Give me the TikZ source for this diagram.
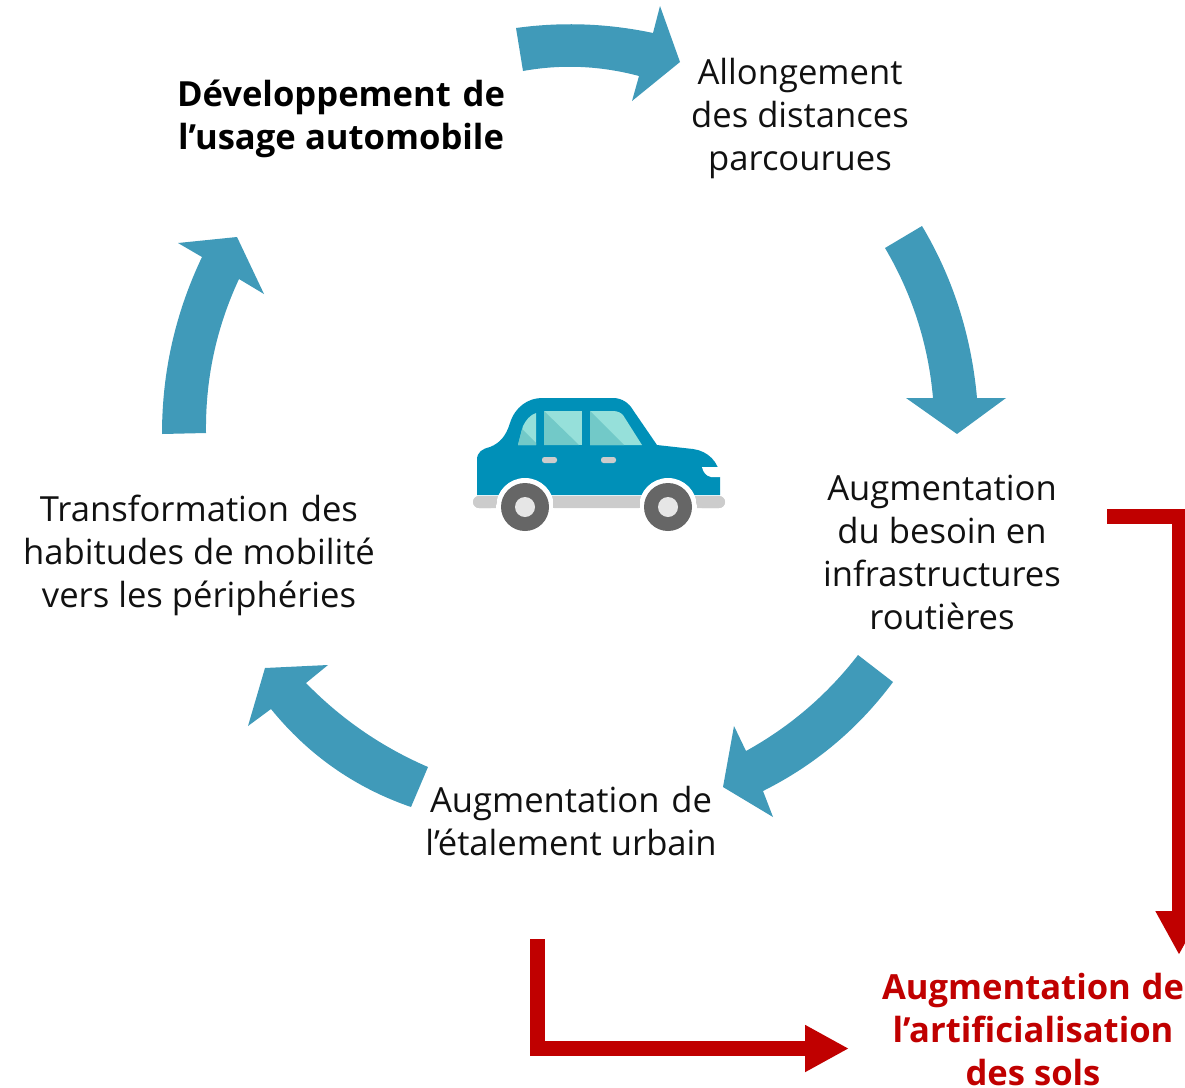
\documentclass[tikz,border=0pt]{standalone}
\usepackage{fontspec}
\setmainfont{Open Sans}
\usetikzlibrary{arrows.meta}
\definecolor{flow}{HTML}{409AB9}
\definecolor{alert}{HTML}{C00000}
\definecolor{carbody}{HTML}{0090B8}
\definecolor{glassl}{HTML}{96E0DA}
\definecolor{glassd}{HTML}{72C9C8}
\definecolor{trim}{HTML}{CCCCCC}
\definecolor{tyre}{HTML}{666666}
\definecolor{hub}{HTML}{E6E6E6}
\definecolor{ink}{HTML}{111111}
\tikzset{
  label/.style={inner sep=0pt,align=center,text=ink,font=\fontsize{34.6}{43}\selectfont},
  boldlabel/.style={label,text=black,font=\fontsize{34.6}{43}\selectfont\bfseries},
  blockarrow/.style={fill=flow,draw=none},
  redarrow/.style={draw=alert,line width=15pt,-{Triangle[length=44pt,width=44pt,fill=alert]}}
}
\begin{document}
\begin{tikzpicture}[x=1pt,y=-1pt]
\useasboundingbox (0,0) rectangle (1185,1087);

% labels
\node[boldlabel] (dev) at (341,119) {\makebox[328pt][s]{Développement\hfill de}\\\makebox[326pt][s]{l’usage automobile}};
\node[label] (allong) at (800,119) {Allongement\\des distances\\parcourues};
\node[label] (infra) at (942,552) {Augmentation\\du besoin en\\infrastructures\\routières};
\node[label] (etal) at (571,821) {\makebox[282pt][s]{Augmentation\hfill de}\\l’étalement urbain};
\node[label] (transf) at (199,555) {\makebox[318pt][s]{Transformation\hfill des}\\habitudes de mobilité\\vers les périphéries};
\node[boldlabel,text=alert] (artif) at (1033,1030) {\makebox[302pt][s]{Augmentation\hfill de}\\l’artificialisation\\des sols};

% cycle arrows
\fill[blockarrow] (516,28) .. controls (561.7,21.7) and (607.3,23.3) .. (653,33) -- (660,6) -- (680,62) -- (632,101) -- (639,76) .. controls (600.3,65.7) and (561.7,64) .. (523,71) -- cycle;
\fill[blockarrow] (922,226) .. controls (953,278) and (971.3,335.3) .. (977,398) -- (1006,398) -- (957,434) -- (906,398) -- (933,398) .. controls (928.3,344.3) and (912.3,294.3) .. (885,248) -- cycle;
\fill[blockarrow] (858,655) .. controls (827.3,694.7) and (790,726.7) .. (746,751) -- (734,726) -- (723,787) -- (773,817) -- (763,791) .. controls (815,765) and (858.3,728.7) .. (893,682) -- cycle;
\fill[blockarrow] (428,767) .. controls (381.7,747) and (341.1,719) .. (306,683) -- (328,665) -- (265,668) -- (248,726) -- (271,709) .. controls (308.3,755) and (355,787.7) .. (411,807) -- cycle;
\fill[blockarrow] (162,434) .. controls (162,372) and (175.3,313) .. (202,257) -- (178,243) -- (237,237) -- (264,294) -- (239,279) .. controls (216.3,327.7) and (205.3,379) .. (206,433) -- cycle;

% red arrows
\coordinate (redAstart) at (1107,516.5);
\coordinate (redAend) at (1179,955);
\coordinate (redBstart) at (537.5,939);
\coordinate (redBend) at (849,1048.5);
\draw[redarrow] (redAstart) -| (redAend);
\draw[redarrow] (redBstart) |- (redBend);

% car
\fill[trim,rounded corners=6pt] (473,496) rectangle (725,508);
\fill[carbody] (477,495) -- (477,460) .. controls (477,452) and (482,449) .. (490,447)
  .. controls (500,443) and (506,436) .. (510,423) .. controls (515,407) and (528,398) .. (542,398)
  -- (613,398) .. controls (622,398) and (629,403) .. (633,410) -- (657,445) -- (693,449)
  .. controls (708,451) and (719,462) .. (720,477) -- (720,495) -- cycle;
\fill[white] (702,467) -- (720,467) -- (720,477) -- (711,477) .. controls (706,476) and (703,472) .. (702,467) -- cycle;
% windows
\fill[glassl] (518,445) -- (523,426) .. controls (526,420) and (530,415) .. (536,413) -- (536,445) -- cycle;
\fill[glassd] (518,445) -- (522,429) -- (536,443) -- (536,445) -- cycle;
\fill[glassl] (544,411) rectangle (582,445);
\fill[glassd] (544,411) -- (579,445) -- (544,445) -- cycle;
\fill[glassl] (590,411) -- (613,411) .. controls (618,411) and (621,413) .. (623,415) -- (642,445) -- (590,445) -- cycle;
\fill[glassd] (590,411) -- (624,445) -- (590,445) -- cycle;
% handles
\fill[trim,rounded corners=2.5pt] (542,457) rectangle (557,463);
\fill[trim,rounded corners=2.5pt] (601,457) rectangle (616,463);
% wheels
\fill[white] (525,507) circle (29);
\fill[white] (668,507) circle (29);
\fill[trim] (553,496) rectangle (640,508);
\fill[trim,rounded corners=6pt] (473,496) rectangle (497,508);
\fill[trim,rounded corners=6pt] (696,496) rectangle (725,508);
\fill[tyre] (525,507) circle (24);
\fill[tyre] (668,507) circle (24);
\fill[hub] (525,507) circle (10);
\fill[hub] (668,507) circle (10);
\end{tikzpicture}
\end{document}
